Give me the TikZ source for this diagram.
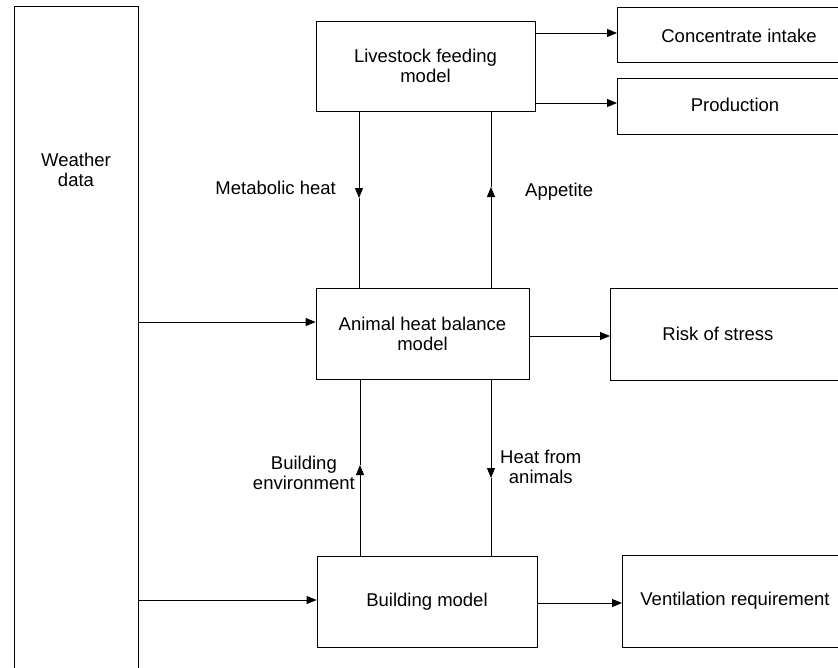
\documentclass[tikz,border=0pt]{standalone}
\usepackage{fontspec}
\setmainfont{Liberation Sans}
\usetikzlibrary{arrows.meta}
\begin{document}
\begin{tikzpicture}[x=1pt,y=-1pt,
  every node/.style={font=\fontsize{18.5}{20}\selectfont, align=center, inner sep=0pt},
  box/.style={draw, line width=0.8pt},
  lbl/.style={},
  conn/.style={line width=0.8pt},
  arr/.style={line width=0.8pt, -{Triangle[length=10pt,width=8pt]}}]
\useasboundingbox (0,0) rectangle (838,667);
\clip (0,0) rectangle (838,667);
% boxes
\node[box, minimum width=124, minimum height=694] (weather) at (76,353) {};
\node[lbl] (weathert) at (76,170) {Weather\\data};
\node[box, minimum width=219, minimum height=90] (lfm) at (425.5,66) {Livestock feeding\\model};
\node[box, minimum width=260, minimum height=55, anchor=west] (ci) at (617,34.5) {};
\node[lbl] (cit) at (739,36) {Concentrate intake};
\node[box, minimum width=260, minimum height=56, anchor=west] (prod) at (617,106) {};
\node[lbl] (prodt) at (735,105) {Production};
\node[box, minimum width=213, minimum height=91] (ahb) at (422.5,333.5) {Animal heat balance\\model};
\node[box, minimum width=260, minimum height=92, anchor=west] (risk) at (610,334) {};
\node[lbl] (riskt) at (718,334) {Risk of stress};
\node[box, minimum width=220, minimum height=91] (bm) at (427,601.5) {Building model};
\node[box, minimum width=260, minimum height=92, anchor=west] (vent) at (622,601) {};
\node[lbl] (ventt) at (735,601) {Ventilation requirement};
% horizontal arrows
\draw[arr] (lfm.east |- 0,33) -- (ci.west |- 0,33);
\draw[arr] (lfm.east |- 0,103) -- (prod.west |- 0,103);
\draw[arr] (weather.east |- 0,322) -- (ahb.west |- 0,322);
\draw[arr] (ahb.east |- 0,336) -- (risk.west |- 0,336);
\draw[arr] (weather.east |- 0,600) -- (bm.west |- 0,600);
\draw[arr] (bm.east |- 0,603) -- (vent.west |- 0,603);
% vertical connectors
\coordinate (mh) at (359,198);
\coordinate (ap) at (491,187);
\coordinate (be) at (360,465);
\coordinate (hf) at (491,478);
\draw[arr] (lfm.south -| mh) -- (mh);
\draw[conn] (mh) -- (ahb.north -| mh);
\draw[arr] (ahb.north -| ap) -- (ap);
\draw[conn] (ap) -- (lfm.south -| ap);
\draw[arr] (bm.north -| be) -- (be);
\draw[conn] (be) -- (ahb.south -| be);
\draw[arr] (ahb.south -| hf) -- (hf);
\draw[conn] (hf) -- (bm.north -| hf);
% labels
\node[lbl, anchor=east] (mhl) at (336,188) {Metabolic heat};
\node[lbl, anchor=west] (apl) at (525,192) {Appetite};
\node[lbl, anchor=east] (bel) at (355,473) {Building\\environment};
\node[lbl, anchor=west] (hfl) at (500,467) {Heat from\\animals};
\end{tikzpicture}
\end{document}
